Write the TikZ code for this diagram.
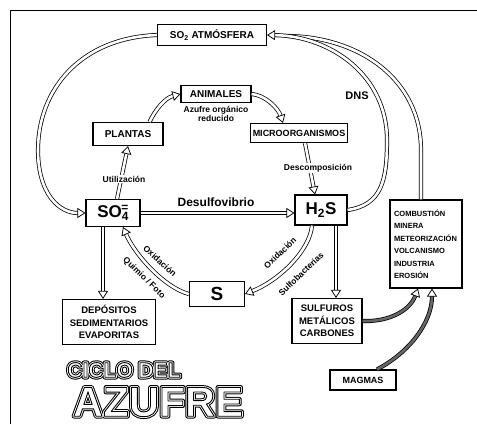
\documentclass[tikz,border=0pt]{standalone}
\usepackage{fontspec}
\setmainfont{Liberation Sans}
\usetikzlibrary{arrows.meta}
\newcommand\trset[3]{\special{pdf:literal direct 1 j #1 Tr #2 w #3 RG}}
\newcommand\trreset{\special{pdf:literal direct 0 Tr 0 0 0 RG}}
\newcommand\outlined[1]{%
  \rlap{\color{black}\trset{1}{4.6}{0 0 0}#1\trreset}%
  \rlap{\color{white}\trset{2}{2.6}{1 1 1}#1\trreset}%
  {\color{white}\trset{2}{0.9}{0 0 0}#1\trreset}}
\begin{document}
\begin{tikzpicture}[x=1pt,y=-1pt,
  box/.style={draw, line width=1.1pt, fill=white, font=\bfseries\fontsize{10}{11}\selectfont, inner sep=2pt, align=center},
  hollow/.style={draw, double=white, double distance=2.6pt, line width=0.75pt,
    -{Triangle[fill=white, length=8pt, width=10pt, line width=0.75pt]}},
  darkarrow/.style={hollow, double=black!60},
  dbl/.style={draw, double=white, double distance=2.6pt, line width=0.75pt},
  lbl/.style={font=\bfseries\fontsize{8.5}{9.5}\selectfont, inner sep=1pt, align=center},
  ttla/.style={font=\bfseries\fontsize{21}{21}\selectfont, inner sep=0pt},
  ttlb/.style={font=\bfseries\fontsize{42}{42}\selectfont, inner sep=0pt},
]
\useasboundingbox (0,0) rectangle (477,424);
\draw[line width=1pt] (10,424) -- (10,10) -- (477,10);

% nodes
\node[box, minimum width=109, minimum height=21] (atm) at (212,35) {SO\textsubscript{2} ATMÓSFERA};
\node[box, minimum width=70, minimum height=17] (anim) at (216,94) {ANIMALES};
\node[box, minimum width=70, minimum height=23] (plant) at (128,134) {PLANTAS};
\node[box, minimum width=96, minimum height=19, font=\bfseries\fontsize{9}{10}\selectfont] (micro) at (299,133) {MICROORGANISMOS};
\node[box, minimum width=54, minimum height=27, font=\bfseries\fontsize{17}{17}\selectfont] (so4) at (113,213) {SO\textsubscript{4}\hspace{-0.45em}\textsuperscript{=}};
\node[box, minimum width=52, minimum height=30, font=\bfseries\fontsize{17}{17}\selectfont] (h2s) at (321,210) {H\textsubscript{2}S};
\node[box, minimum width=55, minimum height=25, font=\bfseries\fontsize{19}{19}\selectfont] (s) at (217,294) {S};
\node[box, minimum width=93, minimum height=45, font=\bfseries\fontsize{9.5}{12.5}\selectfont] (depo) at (109,322) {DEPÓSITOS\\SEDIMENTARIOS\\EVAPORITAS};
\node[box, minimum width=70, minimum height=45, font=\bfseries\fontsize{9.5}{12.5}\selectfont] (sulf) at (327,321) {SULFUROS\\METÁLICOS\\CARBONES};
\node[box, minimum width=66, minimum height=20, font=\bfseries\fontsize{9}{10}\selectfont] (mag) at (363,380) {MAGMAS};
\node[box, minimum width=72, minimum height=88, text width=64, align=left, font=\bfseries\fontsize{7.5}{12.5}\selectfont] (src) at (426,244) {COMBUSTIÓN\\MINERA\\METEORIZACIÓN\\VOLCANISMO\\INDUSTRIA\\EROSIÓN};

% big cycle
\draw[hollow] (atm.west) .. controls (80,38) and (38,90) .. (38,150) .. controls (38,195) and (60,213) .. (so4.west);
\draw[dbl] ([xshift=-5pt]src.north) -- (421,150) .. controls (421,80) and (360,37) .. (288,36);
\draw[hollow] (h2s.east) .. controls (382,205) and (387,180) .. (387,140) .. controls (387,75) and (330,36) .. (atm.east);
\node[font=\bfseries\fontsize{11}{12}\selectfont, inner sep=0pt] (dns) at (357,96) {DNS};

% inner cycle
\draw[hollow] ([xshift=-14pt]plant.north east) .. controls (155,110) and (165,98) .. (anim.west);
\draw[hollow] (anim.east) .. controls (265,95) and (278,108) .. ([xshift=-16pt]micro.north);
\node[lbl] (org) at (216,114) {Azufre orgánico\\reducido};
\draw[hollow] ([xshift=6pt]micro.south) -- ([xshift=-6pt]h2s.north);
\node[lbl, fill=white] (desc) at (318,168) {Descomposición};
\draw[hollow] ([xshift=4pt]so4.north) -- (plant.south);
\node[lbl, fill=white] (util) at (124,179) {Utilización};

\draw[hollow] (so4.east) -- (so4.east -| h2s.west);
\node[font=\bfseries\fontsize{12}{13}\selectfont, inner sep=0pt] (desu) at (216,202) {Desulfovibrio};

\draw[hollow] (s.west) .. controls (165,288) and (135,255) .. ([xshift=10pt]so4.south);
\node[lbl, rotate=-42] (ox1) at (160,261) {Oxidación};
\node[lbl, rotate=-44] (qf) at (144,278) {Quimio / Foto};
\draw[hollow] ([xshift=-9pt]h2s.south) .. controls (310,250) and (280,280) .. (s.east);
\node[lbl, rotate=44] (ox2) at (280,253) {Oxidación};
\node[lbl, rotate=44] (sb) at (301,274) {Sulfobacterias};

\draw[hollow] ([xshift=-10pt]so4.south) -- ([xshift=-10pt]so4.south |- depo.north);
\draw[hollow] ([xshift=15pt]h2s.south) -- ([xshift=15pt]h2s.south |- sulf.north);

\draw[darkarrow] (sulf.east) .. controls (390,322) and (410,310) .. ([xshift=-8pt]src.south);
\draw[darkarrow] ([xshift=14pt]mag.north) .. controls (410,352) and (432,322) .. ([xshift=6pt]src.south);

% title
\node[ttla] (ciclo) at (124,370) {\outlined{CICLO DEL}};
\node[ttlb] (azufre) at (158,402) {\outlined{AZUFRE}};
\end{tikzpicture}
\end{document}
